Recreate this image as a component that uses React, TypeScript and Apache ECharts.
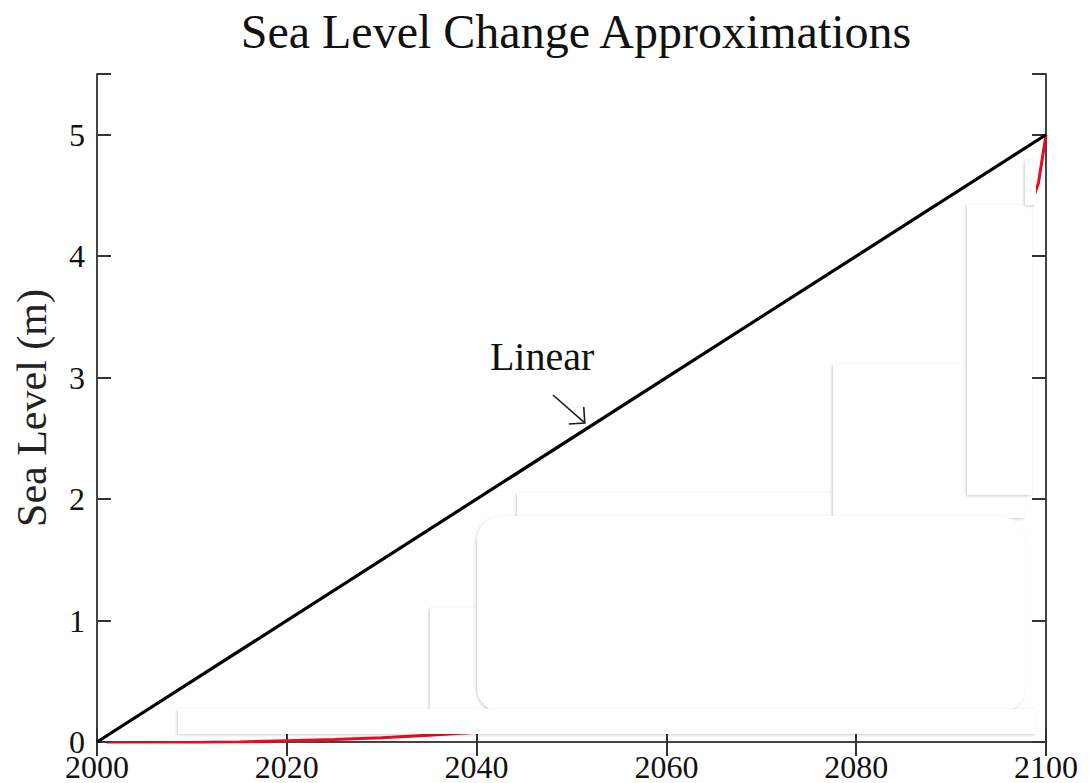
import React, { useEffect, useRef } from "react";
import * as echarts from "echarts";

// ---- data ----
const xTickYears = [2000, 2020, 2040, 2060, 2080, 2100];
const yTicks = [0, 1, 2, 3, 4, 5];

const linearYears = [2000, 2100];
const linearValues = [0, 5];

const expYears = [2001, 2005, 2010, 2015, 2020, 2025, 2030, 2035, 2040, 2050, 2060, 2070, 2080, 2090, 2093, 2095, 2097, 2098.3, 2099.2, 2100];
const expValues = [-0.015, -0.01, -0.005, 0.0, 0.01, 0.02, 0.035, 0.055, 0.08, 0.13, 0.2, 0.3, 0.45, 0.75, 1.1, 1.7, 3.0, 4.4, 4.6, 5.0];

const linearLabelText = "Linear";
const linearLabelAt = [2046.9, 3.17];
const arrowFrom = [2048.05, 2.857];
const arrowTo = [2051.4, 2.627];

// white masking boxes: [x, y, w, h, radius]
const masks: number[][] = [
  [430, 608, 450, 102, 0],
  [517, 493, 316, 25, 0],
  [833, 364, 192, 154, 0],
  [967, 205, 65, 290, 0],
  [1025, 160, 11, 45, 0],
  [477, 516, 548, 196, 25],
  [178, 709, 858, 25, 0],
];

const SERIF = "'Liberation Serif', 'DejaVu Serif', serif";

export default function App() {
  const ref = useRef<HTMLDivElement>(null);
  useEffect(() => {
    document.body.style.margin = "0";
    if (!ref.current) return;
    const chart = echarts.init(ref.current, undefined, { renderer: "svg" });
    const axisLine = { show: true, lineStyle: { color: "#444", width: 2 } };
    const axisTick = { show: true, inside: true, length: 14, lineStyle: { color: "#333", width: 2 } };
    chart.setOption({
      animation: false,
      backgroundColor: "#fff",
      title: {
        text: "Sea Level Change Approximations",
        left: 571,
        textAlign: "center",
        top: 2,
        textStyle: { fontFamily: SERIF, fontSize: 48, fontWeight: "normal", color: "#111" },
      },
      grid: { left: 97, right: 43, top: 74, bottom: 41, containLabel: false },
      xAxis: [
        {
          type: "value",
          min: xTickYears[0],
          max: xTickYears[xTickYears.length - 1],
          interval: 20,
          position: "bottom",
          axisLine,
          axisTick,
          splitLine: { show: false },
          axisLabel: {
            fontFamily: SERIF,
            fontSize: 32,
            color: "#111",
            margin: 9,
            formatter: (v: number) => String(v),
          },
        },
        {
          type: "value",
          min: xTickYears[0],
          max: xTickYears[xTickYears.length - 1],
          interval: 20,
          position: "top",
          axisLine,
          axisTick,
          splitLine: { show: false },
          axisLabel: { show: false },
        },
      ],
      yAxis: [
        {
          type: "value",
          min: 0,
          max: 5.5,
          interval: 1,
          position: "left",
          name: "Sea Level (m)",
          nameLocation: "middle",
          nameGap: 44,
          nameTextStyle: { fontFamily: SERIF, fontSize: 42, color: "#222" },
          axisLine,
          axisTick,
          splitLine: { show: false },
          axisLabel: {
            fontFamily: SERIF,
            fontSize: 32,
            color: "#111",
            margin: 12,
            formatter: (v: number) => (yTicks.indexOf(v) >= 0 ? String(v) : ""),
          },
        },
        {
          type: "value",
          min: 0,
          max: 5.5,
          interval: 1,
          position: "right",
          axisLine,
          axisTick,
          splitLine: { show: false },
          axisLabel: { show: false },
        },
      ],
      series: [
        {
          type: "line",
          name: "Exponential",
          data: expYears.map((y, i) => [y, expValues[i]]),
          showSymbol: false,
          lineStyle: { color: "#ee0a1e", width: 3 },
          z: 2,
        },
        {
          type: "line",
          name: "Linear",
          data: linearYears.map((y, i) => [y, linearValues[i]]),
          showSymbol: false,
          lineStyle: { color: "#000", width: 3.2 },
          z: 3,
        },
      ],
    });

    const p = (d: number[]) => chart.convertToPixel({ gridIndex: 0 }, d) as number[];
    const lp = p(linearLabelAt);
    const a0 = p(arrowFrom);
    const a1 = p(arrowTo);
    const ang = Math.atan2(a0[1] - a1[1], a0[0] - a1[0]);
    const headLen = 16;
    const h1 = [a1[0] + headLen * Math.cos(ang + Math.PI / 4), a1[1] + headLen * Math.sin(ang + Math.PI / 4)];
    const h2 = [a1[0] + headLen * Math.cos(ang - Math.PI / 4), a1[1] + headLen * Math.sin(ang - Math.PI / 4)];

    const maskEls = masks.map((m) => ({
      type: "rect",
      shape: { x: m[0], y: m[1], width: m[2], height: m[3], r: m[4] },
      style: { fill: "#fff", shadowBlur: 3, shadowColor: "rgba(0,0,0,0.2)", shadowOffsetX: -1, shadowOffsetY: 1 },
      z: 100,
      silent: true,
    }));

    chart.setOption({
      graphic: [
        ...maskEls,
        {
          type: "text",
          x: lp[0],
          y: lp[1],
          style: {
            text: linearLabelText,
            fontFamily: SERIF,
            fontSize: 40,
            fill: "#111",
            align: "center",
            verticalAlign: "middle",
          },
          z: 110,
        },
        {
          type: "line",
          shape: { x1: a0[0], y1: a0[1], x2: a1[0], y2: a1[1] },
          style: { stroke: "#1a1a2a", lineWidth: 1.6 },
          z: 110,
        },
        {
          type: "polyline",
          shape: { points: [h1, a1, h2] },
          style: { stroke: "#1a1a2a", lineWidth: 1.6, fill: "none" },
          z: 110,
        },
      ],
    });

    return () => chart.dispose();
  }, []);
  return <div ref={ref} style={{ width: 1089, height: 783 }} />;
}
